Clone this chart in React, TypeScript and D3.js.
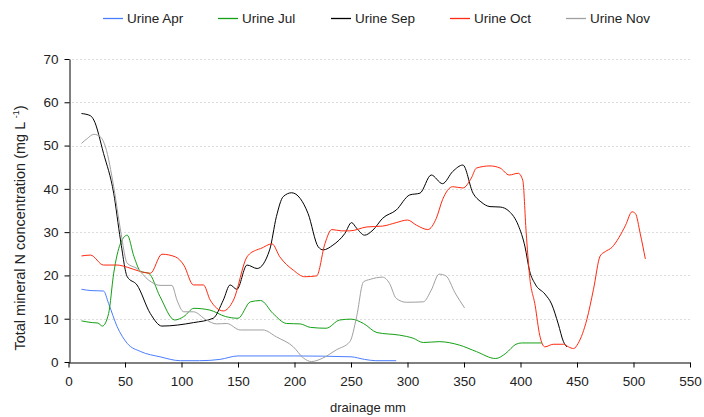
import React, { useEffect, useRef } from 'react';
import * as d3 from 'd3';

// drainage (mm) vs total mineral N (mg/L)
const urineApr: [number, number][] = [
  [11.5, 16.8], [20, 16.5], [31, 16.4], [35.5, 13.5], [43, 8.2], [52, 4.3], [64, 2.4], [81, 1.2],
  [99, 0.3], [116, 0.3], [134, 0.6], [150, 1.4], [200, 1.4], [250, 1.2], [262, 0.6], [272, 0.3], [290, 0.3],
];
const urineJul: [number, number][] = [
  [11.5, 9.5], [21, 9.1], [26, 9], [30, 8.3], [35.5, 11.2], [40, 20.5], [46, 27.4], [52, 29.3], [58, 24.3],
  [64, 20.9], [71, 20.5], [81, 15.1], [94, 9.7], [102, 10.5], [111, 12.4], [125, 12], [139, 10.5], [150, 10.1],
  [161, 13.9], [170, 14.2], [181, 11.2], [193, 8.9], [205, 8.8], [214, 8], [228, 7.8], [240, 9.7], [250, 9.9],
  [261, 8.9], [273, 6.8], [293, 6.2], [305, 5.5], [314, 4.5], [328, 4.7], [346, 3.9], [361, 2.4], [378, 0.8],
  [387, 2], [396, 4.1], [401, 4.4], [419, 4.4],
];
const urineSep: [number, number][] = [
  [11.5, 57.4], [19.4, 56.9], [22.4, 55.9], [31, 48.2], [40, 39], [46, 28.2], [52, 19.7], [60.6, 17.8],
  [72.4, 11.2], [82.7, 8.3], [110.6, 9.1], [128, 10.1], [137, 14.3], [143, 17.8], [149, 16.8], [158, 22.4],
  [167, 21.6], [178, 25.9], [184, 33.6], [190, 38.2], [197.5, 39.1], [205, 37.8], [212, 34.3], [221, 26.6],
  [225.4, 25.9], [234, 27], [244.6, 29.7], [250.5, 32.2], [255, 30.9], [262, 29.3], [269.5, 30.5], [278, 33.2],
  [290, 35.1], [302, 38.6], [311, 39], [321, 43.2], [331, 41.2], [340, 44], [349, 45.5], [358, 39], [365, 37],
  [373, 35.9], [382, 35.8], [390, 34.8], [398, 31.6], [404, 26.6], [408, 21.1], [413, 18], [421.6, 15.7],
  [427.5, 13.4], [433.4, 8.8], [438, 4.7], [441, 3.5],
];
const urineOct: [number, number][] = [
  [11.5, 24.5], [19.4, 24.7], [31, 22.4], [43, 22.4], [52, 21.9], [63.6, 20.9], [72.4, 20.5], [82.7, 24.9],
  [94.5, 24.3], [102, 22.4], [110.6, 17.8], [119.4, 17.8], [125.4, 14.3], [137, 11.8], [146, 14.3], [158, 24.3],
  [166.6, 25.9], [170, 26.2], [180, 27.3], [187, 24.3], [199, 21.2], [209, 19.7], [219.6, 19.9], [227, 27.4],
  [233, 30.6], [241.6, 30.3], [249, 30.3], [264, 31.2], [278, 31.4], [290, 32.2], [300, 32.8], [308, 31.6],
  [318, 30.6], [325.5, 33.2], [331, 37.5], [340, 40.5], [349, 40.2], [356.5, 42.5], [361, 44.8], [373, 45.3],
  [382, 44.8], [390, 43.2], [398, 43.6], [402, 42], [405, 30], [408, 20], [413, 13], [417, 6.2], [421.6, 3.5],
  [429, 4.1], [438, 4.1], [442.4, 3.5], [447, 3.1], [451, 4.3], [458.7, 9.8], [464.6, 16.8], [470.5, 24.5],
  [475, 25.5], [481, 26.5], [487, 28.7], [493, 31.6], [498.7, 34.7], [501.7, 34.3], [506, 29.6], [510.5, 23.8],
];
const urineNov: [number, number][] = [
  [11.5, 50.5], [16.5, 51.6], [22.4, 52.6], [28.3, 52], [32.7, 49.7], [40, 40.5], [46, 30.5], [52, 22.8],
  [60.6, 21.6], [71, 18.9], [81, 17.7], [91.5, 17.7], [96, 14.3], [102, 11.6], [110.6, 11.6], [122, 9.7],
  [131, 8.8], [140, 8.9], [152, 7.4], [166, 7.4], [172, 7.4], [184, 5.8], [199, 3.5], [208, 0.9], [215, 0.1],
  [225, 0.9], [237, 2.8], [249, 4.7], [255, 10.5], [261, 18.5], [267, 19.1], [278, 19.6], [284, 18.2],
  [290, 14.7], [299, 13.8], [314, 13.9], [321, 16.6], [328, 20.3], [334, 19.9], [342, 16], [350.5, 12.5],
];

const seriesNames = ['Urine Apr', 'Urine Jul', 'Urine Sep', 'Urine Oct', 'Urine Nov'];
const seriesData = [urineApr, urineJul, urineSep, urineOct, urineNov];
const seriesColors = ['#4a7dff', '#14a014', '#000000', '#ff2a10', '#a0a0a0'];
const xTicks = d3.range(0, 551, 50);
const yTicks = d3.range(0, 71, 10);

const App = () => {
  const svgRef = useRef<SVGSVGElement>(null);

  useEffect(() => {
    const svg = d3.select(svgRef.current);
    svg.selectAll('*').remove();

    const margin = { left: 68.5, right: 690, top: 59, bottom: 362 };
    const font = 'Liberation Sans, Arial, sans-serif';

    const x = d3.scaleLinear().domain([0, 550]).range([margin.left, margin.right]);
    const y = d3.scaleLinear().domain([0, 70]).range([margin.bottom, margin.top]);

    // dotted gridlines
    svg.append('g')
      .selectAll('line')
      .data(yTicks.filter(d => d > 0))
      .join('line')
      .attr('x1', margin.left)
      .attr('x2', margin.right)
      .attr('y1', d => Math.round(y(d)) + 0.5)
      .attr('y2', d => Math.round(y(d)) + 0.5)
      .attr('stroke', '#b8b8b8')
      .attr('stroke-dasharray', '1,3');

    const line = d3.line<[number, number]>()
      .x(d => x(d[0]))
      .y(d => y(d[1]))
      .curve(d3.curveMonotoneX);

    seriesData.forEach((s, i) => {
      svg.append('path')
        .datum(s)
        .attr('fill', 'none')
        .attr('stroke', seriesColors[i])
        .attr('stroke-width', 1)
        .attr('d', line);
    });

    const xAxis = svg.append('g')
      .attr('transform', `translate(0,${Math.round(y(0)) + 0.5})`)
      .call(d3.axisBottom(x).tickValues(xTicks).tickSize(5).tickSizeOuter(0).tickPadding(9));
    const yAxis = svg.append('g')
      .attr('transform', `translate(${Math.round(margin.left) + 0.5},0)`)
      .call(d3.axisLeft(y).tickValues(yTicks).tickSize(5).tickSizeOuter(0).tickPadding(6));

    [xAxis, yAxis].forEach(g => {
      g.selectAll('text')
        .attr('font-family', font)
        .attr('font-size', 13.5)
        .attr('fill', '#222');
      g.select('.domain').attr('stroke', '#000');
      g.selectAll('.tick line').attr('stroke', '#000');
    });

    svg.append('text')
      .attr('x', 368)
      .attr('y', 412)
      .attr('text-anchor', 'middle')
      .attr('font-family', font)
      .attr('font-size', 13)
      .attr('fill', '#222')
      .text('drainage mm');

    const yLabel = svg.append('text')
      .attr('transform', 'translate(25,228) rotate(-90)')
      .attr('text-anchor', 'middle')
      .attr('font-family', font)
      .attr('font-size', 14.5)
      .attr('fill', '#222');
    yLabel.append('tspan').text('Total mineral N concentration (mg L ');
    yLabel.append('tspan').attr('font-size', 9).attr('dy', -6).text('-1');
    yLabel.append('tspan').attr('dy', 6).text(')');

    // legend
    const legendX = [103, 218, 331, 450, 566];
    const legend = svg.append('g');
    seriesNames.forEach((name, i) => {
      legend.append('line')
        .attr('x1', legendX[i])
        .attr('x2', legendX[i] + 20)
        .attr('y1', 18.5)
        .attr('y2', 18.5)
        .attr('stroke-width', 1.3)
        .attr('stroke', seriesColors[i]);
      legend.append('text')
        .attr('x', legendX[i] + 24)
        .attr('y', 23)
        .attr('font-family', font)
        .attr('font-size', 13.5)
        .attr('fill', '#222')
        .text(name);
    });
  }, []);

  return (
    <svg
      ref={svgRef}
      width={704}
      height={417}
      style={{ position: 'absolute', left: 0, top: 0, background: '#fff' }}
    />
  );
};

export default App;
